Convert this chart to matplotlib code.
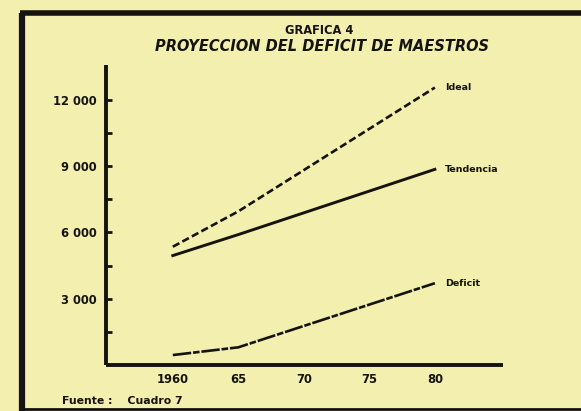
import matplotlib
matplotlib.use("Agg")
import matplotlib.pyplot as plt
from matplotlib.lines import Line2D

# ---- data ----
years = [1960, 1965, 1980]
ideal = [5350, 6950, 12550]
tendencia = [4950, 5900, 8850]
deficit = [450, 800, 3700]
series_labels = ["Ideal", "Tendencia", "Deficit"]
x_ticks = [1960, 1965, 1970, 1975, 1980]
x_ticklabels = ["1960", "65", "70", "75", "80"]
y_ticks = [3000, 6000, 9000, 12000]
y_ticklabels = ["3 000", "6 000", "9 000", "12 000"]
y_minor = [1500, 4500, 7500, 10500]
title1 = "GRAFICA 4"
title2 = "PROYECCION DEL DEFICIT DE MAESTROS"
source = "Fuente :    Cuadro 7"

BG = "#f3efae"
INK = "#15130f"

fig = plt.figure(figsize=(5.81, 4.11), dpi=100, facecolor=BG)
ax = fig.add_axes([106/581, 1-365/411, (503-106)/581, (365-65)/411])
ax.set_facecolor(BG)
ax.patch.set_alpha(0)

ax.plot(years, ideal, color=INK, lw=1.9, ls=(0, (2.8, 1.3)), solid_capstyle="butt")
ax.plot(years, tendencia, color=INK, lw=2.1)
ax.plot(years, deficit, color=INK, lw=1.9, ls=(0, (7, 0.7, 2.5, 0.7)))

for vals, lab in zip([ideal, tendencia, deficit], series_labels):
    ax.text(years[-1] + 0.75, vals[-1], lab, ha="left", va="center",
            fontsize=6.8, fontweight="heavy", color=INK, family="DejaVu Sans")

ax.set_xlim(1954.9, 1985.2)
ax.set_ylim(0, 13570)
for s in ["top", "right"]:
    ax.spines[s].set_visible(False)
for s in ["left", "bottom"]:
    ax.spines[s].set_linewidth(2.8)
    ax.spines[s].set_color(INK)
    ax.spines[s].set_capstyle("butt")

ax.set_xticks(x_ticks)
ax.set_xticklabels(x_ticklabels)
ax.set_yticks(y_ticks)
ax.set_yticklabels(y_ticklabels)
ax.set_yticks(y_minor, minor=True)
ax.tick_params(axis="x", length=0, pad=6, labelsize=8.3, colors=INK)
ax.tick_params(axis="y", which="both", direction="in", length=4, width=2,
               pad=7, labelsize=8.3, colors=INK)
for t in ax.get_xticklabels() + ax.get_yticklabels():
    t.set_fontweight("bold")

fig.text(319/581, 1-31/411, title1, ha="center", va="center",
         fontsize=8.3, fontweight="bold", color=INK)
fig.text(322/581, 1-46.5/411, title2, ha="center", va="center",
         fontsize=10.5, fontweight="bold", style="italic", color=INK)
fig.text(62/581, 1-401/411, source, ha="left", va="center",
         fontsize=7.8, fontweight="bold", color=INK)

# outer frame of the printed figure
fig.add_artist(Line2D([22/581, 22/581], [0, 1-13/411], transform=fig.transFigure,
                      color=INK, lw=4.5, solid_capstyle="butt"))
fig.add_artist(Line2D([20/581, 1], [1-13/411, 1-13/411], transform=fig.transFigure,
                      color=INK, lw=4, solid_capstyle="butt"))
fig.add_artist(Line2D([20/581, 1], [1-409/411, 1-409/411], transform=fig.transFigure,
                      color=INK, lw=2, solid_capstyle="butt"))

fig.savefig("out.png", dpi=100, facecolor=BG)
